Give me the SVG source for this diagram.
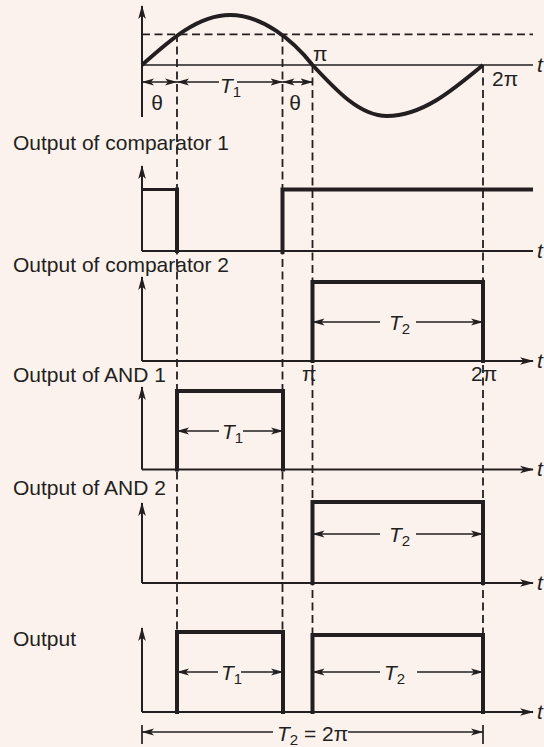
<svg xmlns="http://www.w3.org/2000/svg" width="544" height="747" viewBox="0 0 544 747">
<defs>
<style>
.ax{stroke:#231F20;stroke-width:2;fill:none}
.dash{stroke:#231F20;stroke-width:1.8;stroke-dasharray:8 4.5;fill:none}
.thick{stroke:#231F20;stroke-width:4;fill:none;stroke-linejoin:miter;stroke-linecap:square}
.thin{stroke:#231F20;stroke-width:2.8;fill:none}
.dim{stroke:#231F20;stroke-width:1.7;fill:none}
.lbl{font-family:"Liberation Sans",Arial,sans-serif;font-size:21px;fill:#231F20}
.it{font-style:italic}
.sub{font-size:15px}
</style>
<marker id="ah" markerUnits="userSpaceOnUse" markerWidth="15" markerHeight="10" refX="13" refY="5" orient="auto-start-reverse" viewBox="0 0 15 10"><path d="M0,1.2 L14,5 L0,8.8 L3.5,5 z" fill="#231F20"/></marker>
<marker id="dh" markerUnits="userSpaceOnUse" markerWidth="13" markerHeight="8" refX="12" refY="4" orient="auto-start-reverse" viewBox="0 0 13 8"><path d="M0,0.4 L12.5,4 L0,7.6 L3,4 z" fill="#231F20"/></marker>
</defs>
<rect x="0" y="0" width="544" height="747" fill="#FCF2ED"/>

<g id="guides">
<path class="dash" d="M142,34.3 H533"/>
<path class="dash" d="M177,34 V632"/>
<path class="dash" d="M282.5,34 V632"/>
<path class="dash" d="M312.5,65 V635"/>
<path class="dash" d="M483,65 V635"/>
</g>

<g id="input">
<path class="ax" d="M142,117 V6" marker-end="url(#ah)"/>
<path stroke="#231F20" stroke-width="1.6" fill="none" d="M142,65 H533"/>
<path stroke="#231F20" stroke-width="4" fill="none" d="M142,65 C170.7,39.4 198.2,15 230,15 C262,15 293,40 312.5,65 C336.8,91.1 360,116 387,116 C421.8,116 451.7,91.1 483,65"/>
<path class="dim" d="M142,82 H177" marker-start="url(#dh)" marker-end="url(#dh)"/>
<path class="dim" d="M177,82 H219" marker-start="url(#dh)"/>
<path class="dim" d="M237,82 H282.5" marker-end="url(#dh)"/>
<path class="dim" d="M282.5,82 H312.5" marker-start="url(#dh)" marker-end="url(#dh)"/>
<text class="lbl" x="157" y="110" text-anchor="middle">θ</text>
<text class="lbl" x="295" y="110" text-anchor="middle">θ</text>
<text class="lbl" x="220" y="93"><tspan class="it">T</tspan><tspan class="sub" dy="4">1</tspan></text>
<text class="lbl" x="313" y="61">π</text>
<text class="lbl" x="492" y="86">2π</text>
<text class="lbl it" x="537" y="72">t</text>
</g>

<g id="comparator1">
<text class="lbl" x="13" y="150">Output of comparator 1</text>
<path class="ax" d="M142,251 V166" marker-end="url(#ah)"/>
<path class="ax" d="M142,251 H533"/>
<path class="thin" d="M142,189.5 H177"/>
<path class="thick" d="M177,189.5 V251"/>
<path class="thick" d="M282.5,252 V189.5 H531"/>
<text class="lbl it" x="537" y="258">t</text>
</g>

<g id="comparator2">
<text class="lbl" x="13" y="272">Output of comparator 2</text>
<path class="ax" d="M142,361 V277" marker-end="url(#ah)"/>
<path class="ax" d="M142,361 H533" marker-end="url(#ah)"/>
<path class="thick" d="M312.5,361 V282 H483 V361"/>
<path class="dim" d="M312.5,322 H380" marker-start="url(#dh)"/>
<path class="dim" d="M416,322 H483" marker-end="url(#dh)"/>
<text class="lbl" x="389" y="330"><tspan class="it">T</tspan><tspan class="sub" dy="4">2</tspan></text>
<text class="lbl" x="302" y="381">π</text>
<text class="lbl" x="471" y="381">2π</text>
<text class="lbl it" x="537" y="368">t</text>
</g>

<g id="and1">
<text class="lbl" x="13" y="382">Output of AND 1</text>
<path class="ax" d="M142,469.5 V387" marker-end="url(#ah)"/>
<path class="ax" d="M142,469.5 H533" marker-end="url(#ah)"/>
<path class="thick" d="M177,469.5 V391 H283 V469.5"/>
<path class="dim" d="M177,431 H219" marker-start="url(#dh)"/>
<path class="dim" d="M243,431 H283" marker-end="url(#dh)"/>
<text class="lbl" x="222" y="439"><tspan class="it">T</tspan><tspan class="sub" dy="4">1</tspan></text>
<text class="lbl it" x="537" y="476">t</text>
</g>

<g id="and2">
<text class="lbl" x="13" y="495">Output of AND 2</text>
<path class="ax" d="M142,583 V503" marker-end="url(#ah)"/>
<path class="ax" d="M142,583 H533" marker-end="url(#ah)"/>
<path class="thick" d="M312.5,583 V502 H483 V583"/>
<path class="dim" d="M312.5,534 H380" marker-start="url(#dh)"/>
<path class="dim" d="M416,534 H483" marker-end="url(#dh)"/>
<text class="lbl" x="389" y="542"><tspan class="it">T</tspan><tspan class="sub" dy="4">2</tspan></text>
<text class="lbl it" x="537" y="590">t</text>
</g>

<g id="output">
<text class="lbl" x="13" y="646">Output</text>
<path class="ax" d="M142,712 V628" marker-end="url(#ah)"/>
<path class="ax" d="M142,712 H533" marker-end="url(#ah)"/>
<path class="thick" d="M177,712 V632 H283 V712"/>
<path class="thick" d="M312.5,712 V635 H483 V712"/>
<path class="dim" d="M177,672 H218" marker-start="url(#dh)"/>
<path class="dim" d="M241,672 H283" marker-end="url(#dh)"/>
<text class="lbl" x="221" y="680"><tspan class="it">T</tspan><tspan class="sub" dy="4">1</tspan></text>
<path class="dim" d="M312.5,672 H380" marker-start="url(#dh)"/>
<path class="dim" d="M417,672 H483" marker-end="url(#dh)"/>
<text class="lbl" x="384" y="680"><tspan class="it">T</tspan><tspan class="sub" dy="4">2</tspan></text>
<text class="lbl it" x="537" y="719">t</text>
<path class="dim" d="M142,725 V744 M483,725 V744"/>
<path class="dim" d="M142,732 H273" marker-start="url(#dh)"/>
<path class="dim" d="M348,732 H483" marker-end="url(#dh)"/>
<text class="lbl" x="277" y="741"><tspan class="it">T</tspan><tspan class="sub" dy="4">2</tspan><tspan dy="-4"> = 2π</tspan></text>
</g>
</svg>
